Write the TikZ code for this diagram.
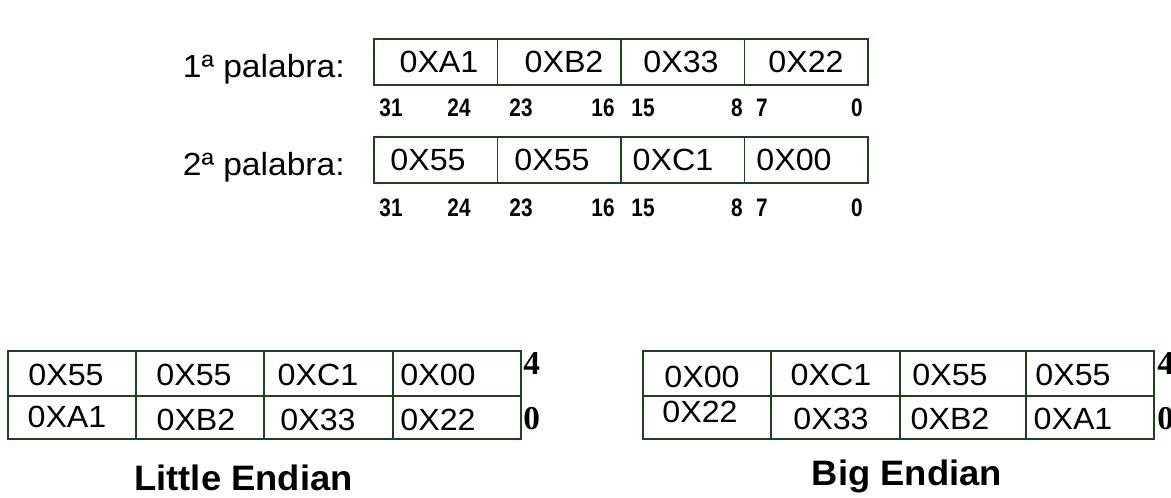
\documentclass[tikz,border=0pt]{standalone}
\usepackage{fontspec}
\setmainfont{Liberation Sans}
\newfontfamily\widesans[FakeStretch=1.05]{Liberation Sans}
\newfontfamily\widebold[FakeStretch=1.03]{Liberation Sans Bold}
\newfontfamily\narrowbold[FakeStretch=0.82]{Liberation Sans Bold}
\newfontfamily\serifbold{Liberation Serif Bold}
\definecolor{boxgreen}{RGB}{30,66,30}
\begin{document}
\begin{tikzpicture}[x=0.75pt,y=-0.75pt,
  outer/.style={draw=boxgreen,line width=1.9pt},
  inner/.style={draw=boxgreen,line width=0.9pt},
  val/.style={inner sep=0pt,font=\widesans\fontsize{23pt}{26pt}\selectfont},
  wordlabel/.style={inner sep=0pt,anchor=base east,font=\widesans\fontsize{24pt}{28pt}\selectfont},
  bit/.style={inner sep=0pt,font=\narrowbold\fontsize{19pt}{22pt}\selectfont},
  addr/.style={inner sep=0pt,anchor=north west,font=\serifbold\fontsize{25pt}{28pt}\selectfont},
  title/.style={inner sep=0pt,anchor=base,font=\widebold\fontsize{26.5pt}{30pt}\selectfont}]
\useasboundingbox (0,0) rectangle (1171,497);
% ---------- words ----------
\node[wordlabel] (l1) at (345,77) {1ª palabra:};
\node[wordlabel] (l2) at (345,175) {2ª palabra:};
\foreach \y in {39,137}{
  \draw[inner] (497.5,\y) -- +(0,46) (621,\y) -- +(0,46) (744.5,\y) -- +(0,46);
  \draw[outer] (374,\y) rectangle (868,\y+46);
}
\node[val] (a1) at (439,62) {0XA1};
\node[val] (a2) at (564,62) {0XB2};
\node[val] (a3) at (681,62) {0X33};
\node[val] (a4) at (806,62) {0X22};
\node[val] (b1) at (428,160) {0X55};
\node[val] (b2) at (552,160) {0X55};
\node[val] (b3) at (673,160) {0XC1};
\node[val] (b4) at (794,160) {0X00};
\foreach \y/\r in {108/p,208/q}{
  \node[bit] (\r31) at (391,\y) {31};
  \node[bit] (\r24) at (459,\y) {24};
  \node[bit] (\r23) at (521,\y) {23};
  \node[bit] (\r16) at (603,\y) {16};
  \node[bit] (\r15) at (643,\y) {15};
  \node[bit] (\r8) at (737,\y) {8};
  \node[bit] (\r7) at (762,\y) {7};
  \node[bit] (\r0) at (857,\y) {0};
}
% ---------- little endian ----------
\draw[inner] (136,351) -- (136,439) (264,351) -- (264,439) (393,351) -- (393,439) (8,396) -- (521,396);
\draw[outer] (8,351) rectangle (521,439);
\node[val] (le1) at (66,375) {0X55};
\node[val] (le2) at (194,375) {0X55};
\node[val] (le3) at (318,375) {0XC1};
\node[val] (le4) at (438,375) {0X00};
\node[val] (le5) at (67,417) {0XA1};
\node[val] (le6) at (196,420) {0XB2};
\node[val] (le7) at (318,420) {0X33};
\node[val] (le8) at (438,420) {0X22};
\node[addr] (la4) at (523,352) {4};
\node[addr] (la0) at (523,407) {0};
\node[title] (lt) at (243.5,490) {Little Endian};
% ---------- big endian ----------
\draw[inner] (771,351) -- (771,439) (900,351) -- (900,439) (1026,351) -- (1026,439) (643,396) -- (1154,396);
\draw[outer] (643,351) rectangle (1154,439);
\node[val] (be1) at (702,377) {0X00};
\node[val] (be2) at (831,375) {0XC1};
\node[val] (be3) at (950,375) {0X55};
\node[val] (be4) at (1073,375) {0X55};
\node[val] (be5) at (700,412) {0X22};
\node[val] (be6) at (831,419) {0X33};
\node[val] (be7) at (950,419) {0XB2};
\node[val] (be8) at (1073,419) {0XA1};
\node[addr] (ba4) at (1157,352) {4};
\node[addr] (ba0) at (1157,407) {0};
\node[title] (bt) at (907,485) {Big Endian};
\end{tikzpicture}
\end{document}
